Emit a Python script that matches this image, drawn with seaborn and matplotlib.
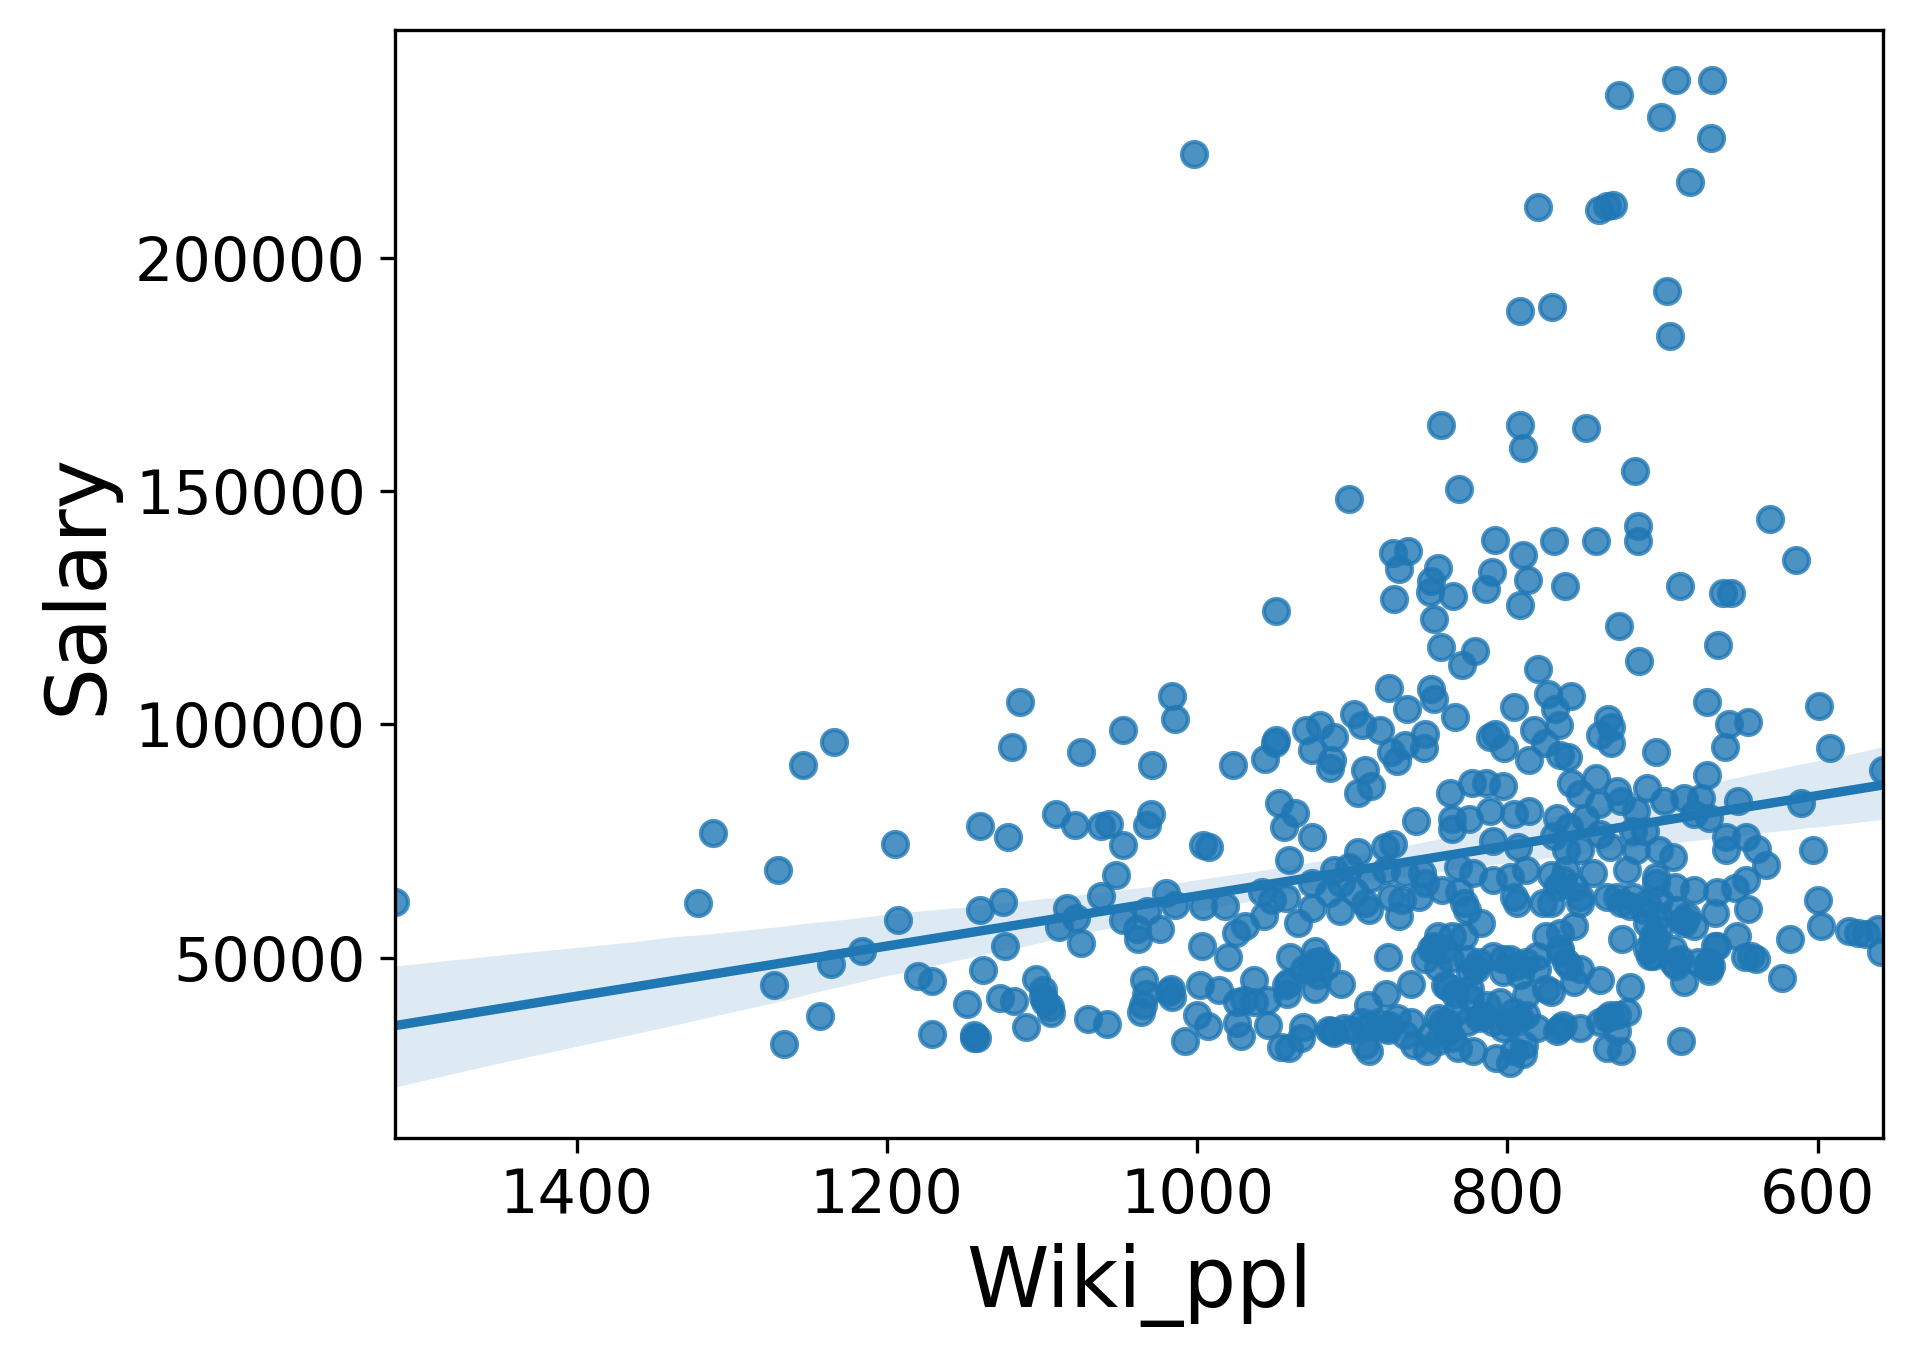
import numpy as np
import pandas as pd
import seaborn as sns
import matplotlib.pyplot as plt

# values (Wiki_ppl, Salary)
wiki_ppl = [
    1517, 1322, 1312, 1254, 1234, 1270, 1273, 1266, 1243, 1236, 1216, 1195, 1193,
    1114, 1119, 1075, 1048, 1016, 1014, 1029, 1140, 1122, 1091, 1079, 1062, 1057, 1048,
    1030, 1032, 996, 1052, 1062, 1020, 1014, 1032, 1140, 1125, 1084, 1078, 1089, 1075,
    1124, 1048, 1039, 1038, 1024, 996, 997, 1180, 1171, 1138, 1148, 1127, 1118, 1104,
    1099, 1098, 1094, 1171, 1144, 1142, 1110, 1070, 1058, 1034, 1033, 1036, 1017, 1016,
    998, 1000, 993, 1008,
    876, 849, 847, 865, 834, 899, 894, 882, 875, 871, 866, 853, 854, 977, 956, 950, 949,
    930, 921, 912, 926, 913, 914, 892, 888, 896, 837, 947, 937, 944, 926, 859, 836, 836,
    992, 941, 896, 879, 874, 912, 902, 926, 907, 915, 888, 878, 866, 855, 853, 842, 832,
    831, 958, 943, 952, 898, 892, 889, 875, 868, 870, 857, 908, 926, 935, 957, 969, 975,
    982, 980, 940, 924, 921, 926, 917, 907, 924, 941, 942, 963, 970, 955, 986, 877, 862,
    878, 890, 849, 845, 836, 853, 845, 838, 834, 974, 972, 954, 946, 932, 915, 912, 901,
    890, 889, 877, 871, 862, 852, 845, 840, 836, 832, 849, 833,
    796, 774, 759, 769, 767, 783, 776, 808, 811, 802, 786, 766, 761, 735, 733, 740, 733,
    704, 823, 814, 803, 811, 796, 786, 759, 743, 729, 727, 710, 741, 753, 768, 770, 760,
    750, 740, 717, 699, 686, 680, 825, 809, 793, 719, 711, 762, 753, 734, 717, 702, 693,
    822, 809, 798, 788, 772, 762, 745, 723, 704, 692, 680, 796, 794, 777, 768, 757, 753,
    736, 727, 719, 710, 702, 691, 828, 826, 817, 757, 766, 775, 726, 710, 706, 702, 684,
    680, 828, 826, 809, 798, 788, 781, 766, 762, 757, 753, 740, 721, 710, 706, 693, 691,
    686, 677, 820, 803, 792, 788, 775, 772, 824, 813, 796, 792, 826, 809, 803, 781, 768,
    764, 753, 736, 729, 723, 688, 736, 727, 822, 807, 798, 790, 789,
    671, 657, 645, 660, 599, 592, 671, 558, 675, 670, 651, 611, 659, 659, 646, 639, 633,
    603, 646, 653, 665, 666, 645, 600, 598, 618, 580, 574, 569, 561, 559, 652, 666, 670,
    670, 647, 640, 623,
    1002, 728, 691, 668, 701, 669, 682, 780, 741, 736, 732, 792, 771, 697, 695,
    843, 792, 790, 749, 718, 831, 902, 631, 716, 716, 808, 770, 743, 614, 874, 864, 870,
    845, 849, 850, 810, 814, 790, 787, 763, 689, 661, 656, 873, 835, 792, 949, 847, 728,
    664, 843, 821, 829, 780, 715,
    # stacked points inside the densest clusters
    764, 753, 772, 729, 721, 704, 708, 686, 671, 766, 760, 693, 734, 766,
    841, 824, 803, 794, 839, 816, 798, 876,
    706, 702, 686, 669, 665, 712, 704, 689, 643,
    924, 931, 922, 842, 838, 845, 878, 883, 913, 894, 943, 840, 847, 837,
    1099, 1095, 1035, 1144, 1018,
    818, 798, 788, 796, 805, 818, 824, 781, 740, 729,
    941, 933, 905, 963, 974, 866, 860, 892,
]
salary = [
    62000, 61780, 76800, 91390, 96260, 68760, 44230, 31540, 37460, 48670, 51420, 74470, 57980,
    104860, 95130, 94140, 98720, 105990, 101190, 91320, 78280, 75880, 80750, 78490, 78280,
    78630, 74260, 80750, 78420, 74050, 67700, 63260, 63970, 61360, 59950, 60160, 61850,
    60650, 58540, 56640, 53110, 52550, 58190, 56070, 53960, 56070, 61010, 52550, 46060,
    44930, 47400, 40000, 41480, 40840, 45500, 43030, 40560, 38090, 33650, 33370, 32810,
    35060, 36900, 35770, 45140, 42320, 38450, 43380, 41620, 44090, 37740, 35270, 32100,
    107750, 107680, 105420, 103310, 101540, 102250, 99920, 98720, 94140, 92170, 95550,
    98020, 94850, 91320, 92590, 95900, 96610, 98720, 99780, 97310, 94490, 92380, 90620,
    90260, 86740, 85330, 85330, 83210, 81100, 77930, 75810, 79340, 79690, 77570, 73700,
    70880, 72640, 73700, 74400, 68760, 69470, 65940, 65940, 63830, 67000, 68760, 68060,
    68060, 65940, 64530, 69470, 64180, 64180, 62770, 62420, 64180, 61710, 60300, 63120,
    62420, 58890, 63120, 59950, 60650, 57480, 58890, 56780, 55370, 61010, 50080, 50080,
    51490, 49370, 47610, 48320, 44440, 43380, 44790, 42320, 45140, 40910, 40910, 43030,
    50080, 44440, 42320, 39860, 51840, 54660, 54660, 49730, 47960, 43730, 42320, 35980,
    33160, 35490, 30830, 35060, 34570, 33860, 34570, 35270, 29990, 34570, 37040, 36330,
    29990, 37040, 34920, 32810, 30690, 33510, 38450,
    103660, 106480, 106130, 103310, 99780, 98720, 95900, 98020, 97310, 94850, 92380,
    93440, 93080, 101190, 99430, 97670, 95900, 94140, 87440, 87440, 86740, 81450, 80750,
    81450, 87440, 88500, 85680, 83570, 86390, 82860, 84980, 80040, 76160, 77930, 80040,
    76520, 81450, 83570, 84270, 80750, 79690, 75110, 73700, 77220, 77220, 72990, 72990,
    73700, 72990, 72990, 71580, 68060, 66650, 67350, 68760, 67700, 68760, 68060, 68760,
    67350, 65240, 64530, 63120, 61710, 61710, 65240, 65240, 61710, 63120, 61710, 63120,
    61710, 62420, 60300, 61710, 60300, 57480, 56780, 55370, 54660, 53960, 57480, 54660,
    56070, 58890, 56780, 54660, 49730, 50430, 49730, 49020, 50430, 51840, 49020, 44790,
    47610, 45140, 43730, 51840, 50430, 51840, 48320, 44790, 49020, 47610, 46910, 46200,
    41970, 43380, 42680, 41270, 39860, 38450, 37040, 36330, 36330, 34920, 34920, 34220,
    35630, 34920, 37040, 37740, 38450, 32100, 30690, 29990, 29990, 28580, 27520, 29280,
    31400,
    104720, 100130, 100490, 95200, 104010, 94990, 89210, 90260, 84270, 80040, 83570,
    83210, 75810, 72990, 75810, 73340, 69820, 73130, 66650, 64880, 64180, 59600, 60440,
    62280, 56780, 53960, 55720, 55370, 55010, 56070, 51140, 54660, 52550, 49020, 47260,
    50080, 49730, 45640,
    222240, 234720, 237960, 237960, 230070, 225620, 216110, 210820, 210110, 211030,
    211310, 188610, 189460, 192840, 183110,
    164150, 164150, 159210, 163440, 154350, 150330, 148220, 143990, 142430, 139260,
    139540, 139330, 139330, 135310, 136650, 137080, 133270, 133410, 130800, 128330,
    132560, 129040, 136300, 130940, 129600, 129600, 128120, 128120, 126920, 127490,
    125580, 124320, 122480, 121140, 116910, 116490, 115640, 112820, 111910, 113530,
    66650, 63120, 61710, 63120, 61010, 53960, 50430, 58190, 48320, 51140, 48320, 49020,
    37740, 34920,
    51840, 46910, 49730, 48320, 36330, 37740, 36330, 35630,
    53250, 58890, 57480, 48320, 52550, 60300, 65940, 49730, 50430,
    49020, 47610, 46200, 36330, 34220, 32100, 34920, 36330, 34220, 36330, 44090, 44090,
    52550, 49730,
    41620, 39500, 39860, 32810, 42680,
    37040, 36330, 37740, 29990, 40560, 49020, 43380, 47610, 36330, 34220,
    30690, 32810, 34920, 40560, 40560, 33510, 31400, 31400,
]

df = pd.DataFrame({'Wiki_ppl': wiki_ppl, 'Salary': salary})

fig = plt.figure(figsize=(1913 / 300, 1358 / 300), dpi=300)
ax = fig.add_axes([0.2065, 0.162, 0.7777, 0.8159])

sns.regplot(data=df, x='Wiki_ppl', y='Salary', ax=ax, seed=0)

# x axis runs from the largest value on the left to the smallest on the right
ax.set_xlim(df['Wiki_ppl'].max(), df['Wiki_ppl'].min())

ax.set_xlabel('Wiki_ppl', fontsize=20)
ax.set_ylabel('Salary', fontsize=20)
ax.tick_params(labelsize=14.5)

fig.savefig('out.png', dpi=300)
